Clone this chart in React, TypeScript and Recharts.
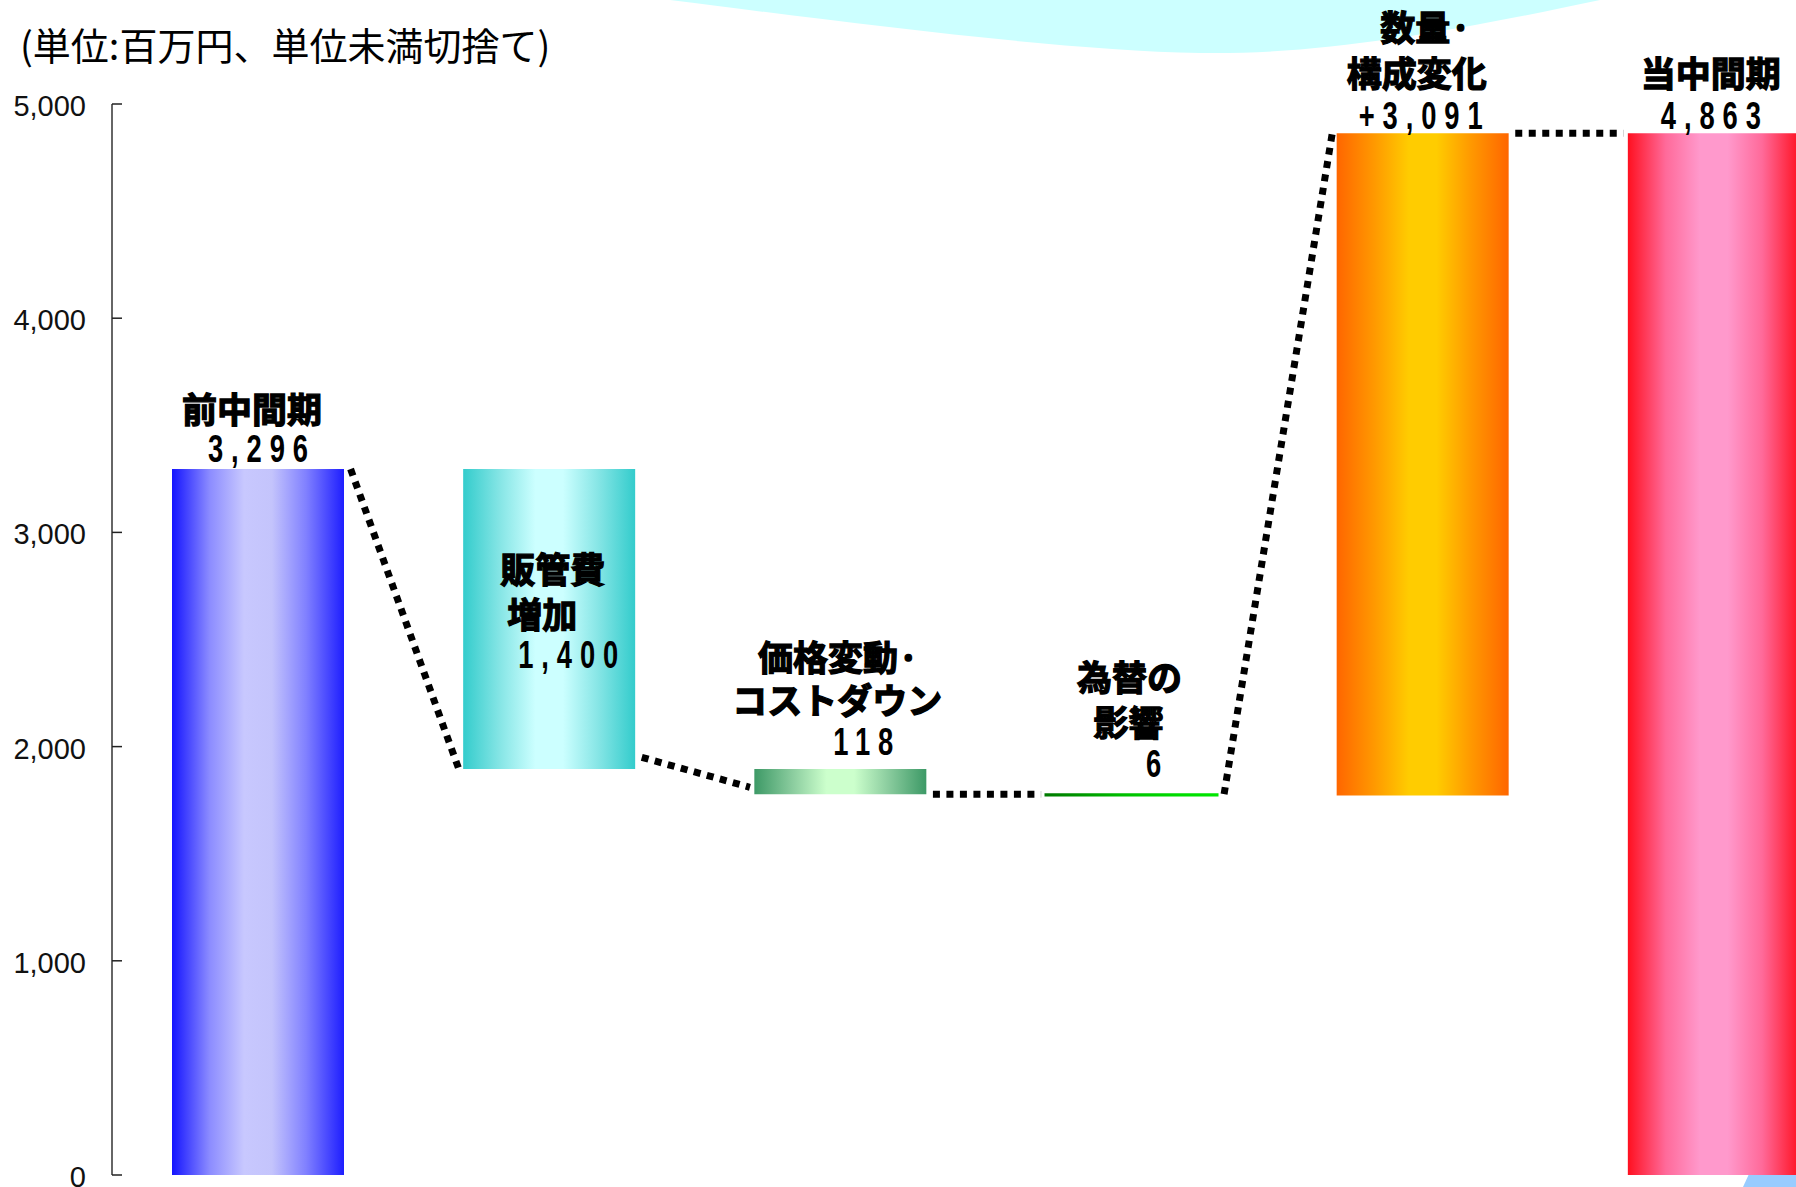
import React from 'react'
import { ComposedChart, Bar, Cell, XAxis, YAxis, ReferenceLine, LabelList } from 'recharts'

// Waterfall: 前中間期 -> 当中間期 (単位: 百万円)
const categories = ['前中間期', '販管費増加', '価格変動・コストダウン', '為替の影響', '数量・構成変化', '当中間期']
const deltas = [3296, -1400, -118, -6, 3091, 4863]
const isTotal = [true, false, false, false, false, true]
const yTicks = [0, 1000, 2000, 3000, 4000, 5000]

// text shown on each bar
const titleLines = [
  ['前中間期'],
  ['販管費', '増加'],
  ['価格変動·', 'コストダウン'],
  ['為替の', '影響'],
  ['数量·', '構成変化'],
  ['当中間期'],
]
const valueLabels = ['3,296', '1,400', '118', '6', '+3,091', '4,863']

// dotted connector levels
const connectorFrom = [3296, 1950, 1778, 1778, 4863]
const connectorTo = [1896, 1810, 1778, 4863, 4863]

const GRADIENTS = [
  ['#1414ff', '#8c8cff', '#c8c8fe', '#c4c4fc', '#8080ff', '#1e1eff'],
  ['#33cccc', '#88e6e6', '#ccffff', '#ccffff', '#88e6e6', '#33cccc'],
  ['#3d9966', '#8acc9e', '#ccffcc', '#ccffcc', '#8acc9e', '#3d9966'],
  ['#007a00', '#009900', '#00bb00', '#00cc00', '#00dd00', '#00e600'],
  ['#ff6600', '#ff9900', '#ffcc00', '#ffcc00', '#ff9900', '#ff6600'],
  ['#ff1020', '#ff6a9a', '#ff99cc', '#ff99cc', '#ff6a9a', '#ff1020'],
]
const GRAD_STOPS = [0, 0.22, 0.42, 0.58, 0.78, 1]

// label placement relative to bar top-centre (px)
type Pos = { dx: number; dy: number; anchor: 'start' | 'middle' }
const LABEL_LAYOUT: { title: Pos[]; value: Pos }[] = [
  { title: [{ dx: -6, dy: -61, anchor: 'middle' }], value: { dx: 0, dy: -20, anchor: 'middle' } },
  {
    title: [{ dx: -49, dy: 99, anchor: 'start' }, { dx: -42, dy: 144, anchor: 'start' }],
    value: { dx: -31, dy: 186, anchor: 'start' },
  },
  {
    title: [{ dx: -2, dy: -113, anchor: 'middle' }, { dx: -3, dy: -70, anchor: 'middle' }],
    value: { dx: 23, dy: -27, anchor: 'middle' },
  },
  {
    title: [{ dx: -2, dy: -119, anchor: 'middle' }, { dx: -3, dy: -74, anchor: 'middle' }],
    value: { dx: 22, dy: -30, anchor: 'middle' },
  },
  {
    title: [{ dx: 3, dy: -108, anchor: 'middle' }, { dx: -6, dy: -62, anchor: 'middle' }],
    value: { dx: -2, dy: -18, anchor: 'middle' },
  },
  { title: [{ dx: -3, dy: -62, anchor: 'middle' }], value: { dx: -3, dy: -18, anchor: 'middle' } },
]

const TITLE_FONT = "'Noto Sans CJK JP', 'Noto Sans CJK SC', sans-serif"
const VALUE_FONT = "'Liberation Sans', Arial, sans-serif"
const VALUE_SPACING = 11 // before horizontal squeeze
const VALUE_SQUEEZE = 0.72
const TICK_GAP = 26
const CONN_START = 93 // px from bar centre to first dot
const CONN_END = 90 // px from next bar centre back to last dot

// running totals -> invisible base + visible part
let running = 0
const data = categories.map((name, i) => {
  let base = 0
  let size = 0
  if (isTotal[i]) {
    size = deltas[i]
    running = deltas[i]
  } else if (deltas[i] >= 0) {
    base = running
    size = deltas[i]
    running += deltas[i]
  } else {
    running += deltas[i]
    base = running
    size = -deltas[i]
  }
  return { name, base, size }
})

function fmt(v: number) {
  return v.toLocaleString('en-US')
}

function YTick(props: any) {
  const { x, y, payload } = props
  return (
    <g>
      <line x1={x + TICK_GAP} x2={x + TICK_GAP + 10} y1={y} y2={y} stroke="#222" strokeWidth={1.5} />
      <text
        x={x}
        y={y + 2}
        textAnchor="end"
        dominantBaseline="central"
        fontFamily="'Liberation Sans', Arial, sans-serif"
        fontSize={29}
        fill="#111"
      >
        {fmt(payload.value)}
      </text>
    </g>
  )
}

function Connector(props: any) {
  const { x1, y1, x2, y2 } = props
  if (x1 == null || x2 == null) return null
  return (
    <line
      x1={x1 + CONN_START}
      y1={y1}
      x2={x2 - CONN_END}
      y2={y2}
      stroke="#000"
      strokeWidth={7}
      strokeDasharray="7 6.5"
    />
  )
}

function BarLabel(props: any) {
  const vb = props.viewBox ?? props
  const idx = typeof props.index === 'number' ? props.index : categories.indexOf(props.value)
  if (idx < 0) return null
  const cx = vb.x + vb.width / 2
  const top = vb.y
  const layout = LABEL_LAYOUT[idx]
  const v = layout.value
  const vx = cx + v.dx + (v.anchor === 'middle' ? (VALUE_SPACING * VALUE_SQUEEZE) / 2 : 0)
  return (
    <g>
      {titleLines[idx].map((t, j) => {
        const p = layout.title[j]
        return (
          <text
            key={j}
            x={cx + p.dx}
            y={top + p.dy}
            textAnchor={p.anchor}
            dominantBaseline="central"
            fontFamily={TITLE_FONT}
            fontWeight={700}
            fontSize={35}
            fill="#000"
            stroke="#000"
            strokeWidth={1.3}
          >
            {t}
          </text>
        )
      })}
      <text
        transform={`translate(${vx},${top + v.dy}) scale(${VALUE_SQUEEZE},1)`}
        x={0}
        y={0}
        textAnchor={v.anchor}
        dominantBaseline="central"
        fontFamily={VALUE_FONT}
        fontWeight={700}
        fontSize={38}
        letterSpacing={VALUE_SPACING}
        fill="#000"
      >
        {valueLabels[idx]}
      </text>
    </g>
  )
}

export default function App() {
  return (
    <div
      style={{
        position: 'absolute',
        left: 0,
        top: 0,
        width: 1796,
        height: 1187,
        overflow: 'hidden',
        background: '#fff',
      }}
    >
      {/* background decoration */}
      <svg width={1796} height={1187} style={{ position: 'absolute', left: 0, top: 0 }}>
        <path d="M670,0 C830,20 1050,50 1200,53 C1320,55 1450,32 1600,0 Z" fill="#ccffff" />
        <polygon points="1783,1100 1796,1100 1796,1187 1743,1187" fill="#99ccff" />
      </svg>

      <div
        style={{
          position: 'absolute',
          left: 20,
          top: 25,
          fontFamily: TITLE_FONT,
          fontSize: 38,
          lineHeight: '38px',
          color: '#000',
          whiteSpace: 'nowrap',
        }}
      >
        (単位:百万円、単位未満切捨て)
      </div>

      <div style={{ position: 'absolute', left: 0, top: 0 }}>
        <ComposedChart
          width={1860}
          height={1187}
          data={data}
          margin={{ top: 104, right: 1, bottom: 12, left: 0 }}
          barCategoryGap={0}
        >
          <defs>
            {GRADIENTS.map((cols, i) => (
              <linearGradient key={i} id={`wf${i}`} x1="0" y1="0" x2="1" y2="0">
                {cols.map((c, j) => (
                  <stop key={j} offset={GRAD_STOPS[j]} stopColor={c} />
                ))}
              </linearGradient>
            ))}
          </defs>
          <XAxis
            xAxisId="cat"
            dataKey="name"
            type="category"
            height={0}
            tick={false}
            tickLine={false}
            axisLine={{ stroke: '#000', strokeWidth: 2 }}
          />
          <YAxis
            domain={[0, 5000]}
            ticks={yTicks}
            width={112}
            tickSize={0}
            tickMargin={TICK_GAP}
            tickLine={false}
            axisLine={{ stroke: '#333', strokeWidth: 1.5 }}
            tick={<YTick />}
            interval={0}
          />
          <Bar xAxisId="cat" dataKey="base" stackId="w" fill="transparent" barSize={172} isAnimationActive={false} />
          <Bar xAxisId="cat" dataKey="size" stackId="w" barSize={172} isAnimationActive={false}>
            {data.map((d, i) => (
              <Cell
                key={d.name}
                fill={`url(#wf${i})`}
                stroke={i === 3 ? `url(#wf${i})` : undefined}
                strokeWidth={i === 3 ? 2 : 0}
              />
            ))}
            <LabelList dataKey="name" content={<BarLabel />} />
          </Bar>
          {connectorFrom.map((from, i) => (
            <ReferenceLine
              key={i}
              xAxisId="cat"
              segment={[
                { x: categories[i], y: from },
                { x: categories[i + 1], y: connectorTo[i] },
              ]}
              ifOverflow="visible"
              shape={(p: any) => <Connector {...p} />}
            />
          ))}
        </ComposedChart>
      </div>
    </div>
  )
}
